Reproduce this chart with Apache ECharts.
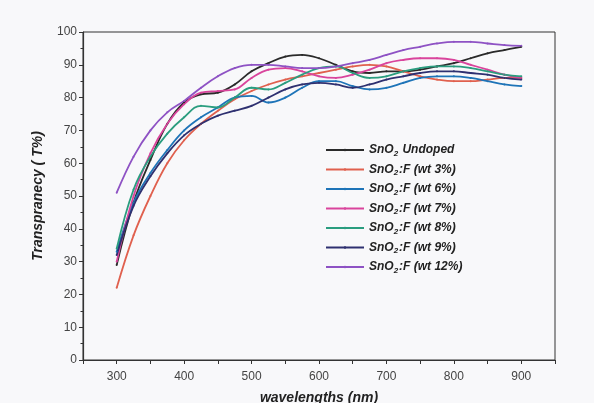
<!DOCTYPE html>
<html>
<head>
<meta charset="utf-8">
<title>Transparency vs wavelength</title>
<script src="https://cdn.jsdelivr.net/npm/echarts@6/dist/echarts.min.js"></script>
<style>
  html, body { margin: 0; padding: 0; background: #f8f8fa; }
  #main { width: 594px; height: 403px; }
</style>
</head>
<body>
<div id="main"></div>
<script>
// wavelengths (nm)
const wavelengths = [300, 325, 350, 375, 400, 425, 450, 475, 500, 525, 550, 575, 600,
  625, 650, 675, 700, 725, 750, 775, 800, 825, 850, 875, 900];

// transparency (T%)
const undoped = [29, 48, 61, 72, 78.5, 81, 81.5, 84, 88, 90.5, 92.5, 93, 92, 90, 88, 87.5, 88, 88, 88.5, 89.5, 90.5, 92, 93.5, 94.5, 95.5];
const wt3 = [22, 38, 50, 60, 67, 72, 76, 79.5, 82, 84, 85.5, 86.5, 87.5, 88.5, 89.5, 90, 89.5, 88, 86.5, 85.5, 85, 85, 85.5, 86, 86];
const wt6 = [33, 48, 57, 64, 70, 74, 77, 80, 80.5, 78.5, 80, 83, 85, 85, 83.5, 82.5, 83, 84.5, 86, 86.5, 86.5, 86, 85, 84, 83.5];
const wt7 = [30, 50, 63, 72, 78, 81.5, 82, 82.5, 86, 88.5, 89, 88, 86.5, 86, 87, 88.5, 90.5, 91.5, 92, 92, 91.5, 90, 88.5, 87, 86];
const wt8 = [34, 52, 62, 69, 74, 77.5, 77, 80, 83, 82.5, 84.5, 87, 89, 89.5, 87.5, 86, 86.5, 88, 89, 89.5, 89.5, 89, 88, 87, 86.5];
const wt9 = [32, 47, 56, 63, 68.5, 72, 74.5, 76, 77.5, 80, 82.5, 84, 84.5, 84, 83, 84, 85.5, 86.5, 87.5, 88, 88, 87.5, 87, 86, 85.5];
const wt12 = [51, 62, 70, 75.5, 79, 83, 86.5, 89, 90, 90, 89.5, 89, 89, 89.5, 90.5, 91.5, 93, 94.5, 95.5, 96.5, 97, 97, 96.5, 96, 95.8];

const seriesNames = ['SnO2 Undoped', 'SnO2:F (wt 3%)', 'SnO2:F (wt 6%)', 'SnO2:F (wt 7%)',
  'SnO2:F (wt 8%)', 'SnO2:F (wt 9%)', 'SnO2:F (wt 12%)'];
const seriesValues = [undoped, wt3, wt6, wt7, wt8, wt9, wt12];
const colors = ['#2a2a2a', '#e0604e', '#1e74b8', '#d9449c', '#2a9d7f', '#2e3070', '#8e52c4'];

const xTicks = [300, 400, 500, 600, 700, 800, 900];

const font = '"Liberation Sans", Arial, sans-serif';

var chart = echarts.init(document.getElementById('main'));

const series = seriesNames.map((name, i) => ({
  name: name,
  type: 'line',
  smooth: 0.4,
  symbol: 'circle',
  symbolSize: 2,
  lineStyle: { width: 1.8, color: colors[i] },
  itemStyle: { color: colors[i] },
  data: wavelengths.map((w, j) => [w, seriesValues[i][j]])
}));

const option = {
  backgroundColor: '#f8f8fa',
  animation: false,
  grid: {
    left: 83, right: 39, top: 32, bottom: 43,
    outerBoundsMode: 'none',
    containLabel: false,
    show: true, borderColor: '#333', borderWidth: 1
  },
  legend: {
    orient: 'vertical',
    left: 320,
    top: 139,
    itemWidth: 38,
    itemHeight: 3,
    itemGap: 6,
    data: seriesNames,
    formatter: name => '{a|' + name.replace('SnO2', 'SnO}{s|2}{a|') + '}',
    textStyle: {
      rich: {
        a: { fontFamily: font, fontSize: 12, fontWeight: 'bold', fontStyle: 'italic', color: '#222', height: 14 },
        s: { fontFamily: font, fontSize: 8, fontWeight: 'bold', fontStyle: 'italic', color: '#222', padding: [7, 1, 0, 0] }
      }
    }
  },
  xAxis: {
    type: 'value',
    min: 250,
    max: 950,
    interval: 50,
    name: 'wavelengths (nm)',
    nameLocation: 'middle',
    nameGap: 31,
    nameTextStyle: { fontFamily: font, fontSize: 14, fontWeight: 'bold', fontStyle: 'italic', color: '#222' },
    axisLine: { lineStyle: { color: '#333', width: 1.2 } },
    axisTick: { show: true, length: 4, lineStyle: { color: '#333' } },
    axisLabel: {
      fontFamily: font, fontSize: 12, color: '#444', margin: 11,
      formatter: v => (xTicks.indexOf(v) >= 0 ? String(v) : '')
    },
    splitLine: { show: false }
  },
  yAxis: {
    type: 'value',
    min: 0,
    max: 100,
    interval: 10,
    name: 'Transpranecy ( T%)',
    nameLocation: 'middle',
    nameGap: 38,
    nameTextStyle: { fontFamily: font, fontSize: 14, fontWeight: 'bold', fontStyle: 'italic', color: '#222' },
    axisLine: { show: true, lineStyle: { color: '#333', width: 1.2 } },
    axisTick: { show: true, length: 4, lineStyle: { color: '#333' } },
    minorTick: { show: true, splitNumber: 2, length: 2.5, lineStyle: { color: '#333' } },
    axisLabel: { fontFamily: font, fontSize: 12, color: '#444', margin: 6 },
    splitLine: { show: false }
  },
  series: series
};

chart.setOption(option);
</script>
</body>
</html>
